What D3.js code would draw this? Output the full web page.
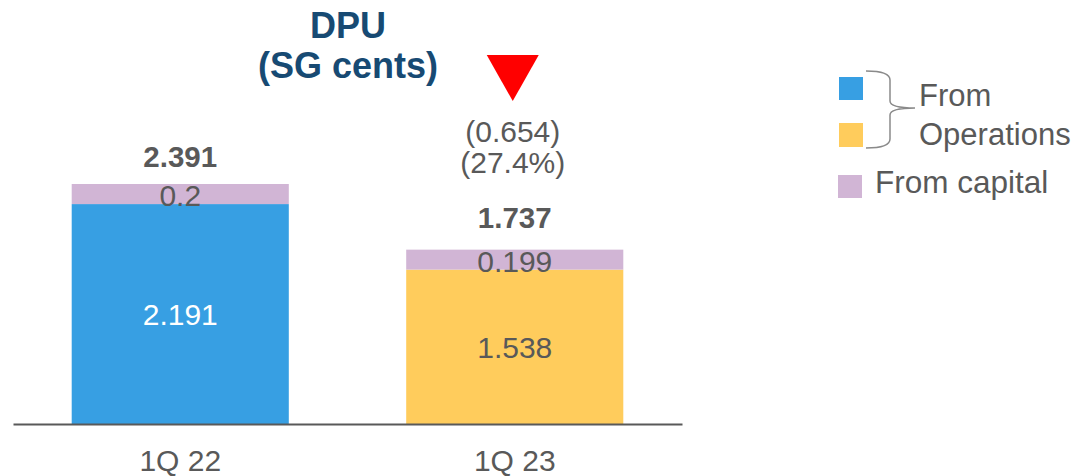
<!DOCTYPE html>
<html>
<head>
<meta charset="utf-8">
<script src="https://cdn.jsdelivr.net/npm/d3@7"></script>
<style>
  html, body { margin: 0; padding: 0; background: #fff; }
  svg { display: block; font-family: "Liberation Sans", Arial, sans-serif; }
</style>
</head>
<body>
<svg id="chart" width="1079" height="476"></svg>
<script>
// ---- data ----
const categories = ["1Q 22", "1Q 23"];
const fromOperations = [2.191, 1.538];
const fromCapital = [0.2, 0.199];
const totalLabels = ["2.391", "1.737"];
const operationsLabels = ["2.191", "1.538"];
const capitalLabels = ["0.2", "0.199"];
const changeLabels = ["(0.654)", "(27.4%)"];
const operationsColors = ["#379FE3", "#FFCC5C"];
const capitalColor = "#D1B5D5";
const titleLines = ["DPU", "(SG cents)"];
const legendOpsLines = ["From", "Operations"];
const legendCapital = "From capital";

const textGray = "#595959";
const svg = d3.select("#chart");

const x = d3.scaleBand().domain(categories).range([13, 682])
  .paddingInner(0.351).paddingOuter(0.1755);
const y = d3.scaleLinear().domain([0, 2.391]).range([424, 184]);

const rows = categories.map((c, i) => ({
  cat: c, ops: fromOperations[i], cap: fromCapital[i], total: fromOperations[i] + fromCapital[i], i
}));

// bars
const g = svg.append("g");
g.selectAll("rect.ops").data(rows).join("rect")
  .attr("class", "ops")
  .attr("x", d => x(d.cat)).attr("width", x.bandwidth())
  .attr("y", d => y(d.ops)).attr("height", d => y(0) - y(d.ops))
  .attr("fill", d => operationsColors[d.i]);
g.selectAll("rect.cap").data(rows).join("rect")
  .attr("class", "cap")
  .attr("x", d => x(d.cat)).attr("width", x.bandwidth())
  .attr("y", d => y(d.total)).attr("height", d => y(d.ops) - y(d.total))
  .attr("fill", capitalColor);

// axis
const axis = svg.append("g").attr("transform", `translate(0,${y(0)})`)
  .call(d3.axisBottom(x).tickSize(0).tickSizeOuter(0).tickPadding(26));
axis.select(".domain").attr("stroke", textGray).attr("stroke-width", 2);
axis.selectAll("text").attr("font-size", 30).attr("fill", textGray)
  .attr("font-family", "Liberation Sans, Arial, sans-serif");

const cx = d => x(d.cat) + x.bandwidth() / 2;

// segment labels
g.selectAll("text.opsl").data(rows).join("text")
  .attr("x", cx).attr("y", d => (y(0) + y(d.ops)) / 2 + 11)
  .attr("text-anchor", "middle").attr("font-size", 30)
  .attr("fill", d => d.i === 0 ? "#ffffff" : textGray)
  .text(d => operationsLabels[d.i]);
g.selectAll("text.capl").data(rows).join("text")
  .attr("x", cx).attr("y", d => y(d.ops) + 2)
  .attr("text-anchor", "middle").attr("font-size", 30)
  .attr("fill", textGray)
  .text(d => capitalLabels[d.i]);
const totalDy = [-17, -22];
g.selectAll("text.tot").data(rows).join("text")
  .attr("x", cx).attr("y", d => y(d.total) + totalDy[d.i])
  .attr("text-anchor", "middle").attr("font-size", 29.5).attr("font-weight", "bold")
  .attr("fill", textGray)
  .text(d => totalLabels[d.i]);

// change annotation above 1Q 23
const c2 = x(categories[1]) + x.bandwidth() / 2 - 2;
svg.selectAll("text.chg").data(changeLabels).join("text")
  .attr("x", c2).attr("y", (d, i) => 142 + i * 31)
  .attr("text-anchor", "middle").attr("font-size", 30).attr("fill", textGray)
  .text(d => d);
svg.append("path")
  .attr("d", `M${c2 - 26},55 L${c2 + 26},55 L${c2},101 Z`)
  .attr("fill", "#FF0000");

// title
svg.selectAll("text.title").data(titleLines).join("text")
  .attr("x", 348).attr("y", (d, i) => 38 + i * 40)
  .attr("text-anchor", "middle").attr("font-size", 36).attr("font-weight", "bold")
  .attr("fill", "#174A73")
  .text(d => d);

// legend
const lg = svg.append("g");
lg.append("rect").attr("x", 839).attr("y", 77).attr("width", 24).attr("height", 23).attr("fill", operationsColors[0]);
lg.append("rect").attr("x", 839).attr("y", 123).attr("width", 24).attr("height", 24).attr("fill", operationsColors[1]);
lg.append("rect").attr("x", 838).attr("y", 175).attr("width", 24).attr("height", 23).attr("fill", capitalColor);
lg.append("path")
  .attr("d", "M866,71 Q890,71 890,80 L890,101 Q890,108 915,108 Q890,108 890,115 L890,139 Q890,148 866,148")
  .attr("fill", "none").attr("stroke", "#8a8a8a").attr("stroke-width", 1.5);
lg.selectAll("text.ops").data(legendOpsLines).join("text")
  .attr("x", 919).attr("y", (d, i) => 106 + i * 39)
  .attr("font-size", 31).attr("fill", textGray).text(d => d);
lg.append("text").attr("x", 875).attr("y", 193)
  .attr("font-size", 31.5).attr("fill", textGray).text(legendCapital);
</script>
</body>
</html>
